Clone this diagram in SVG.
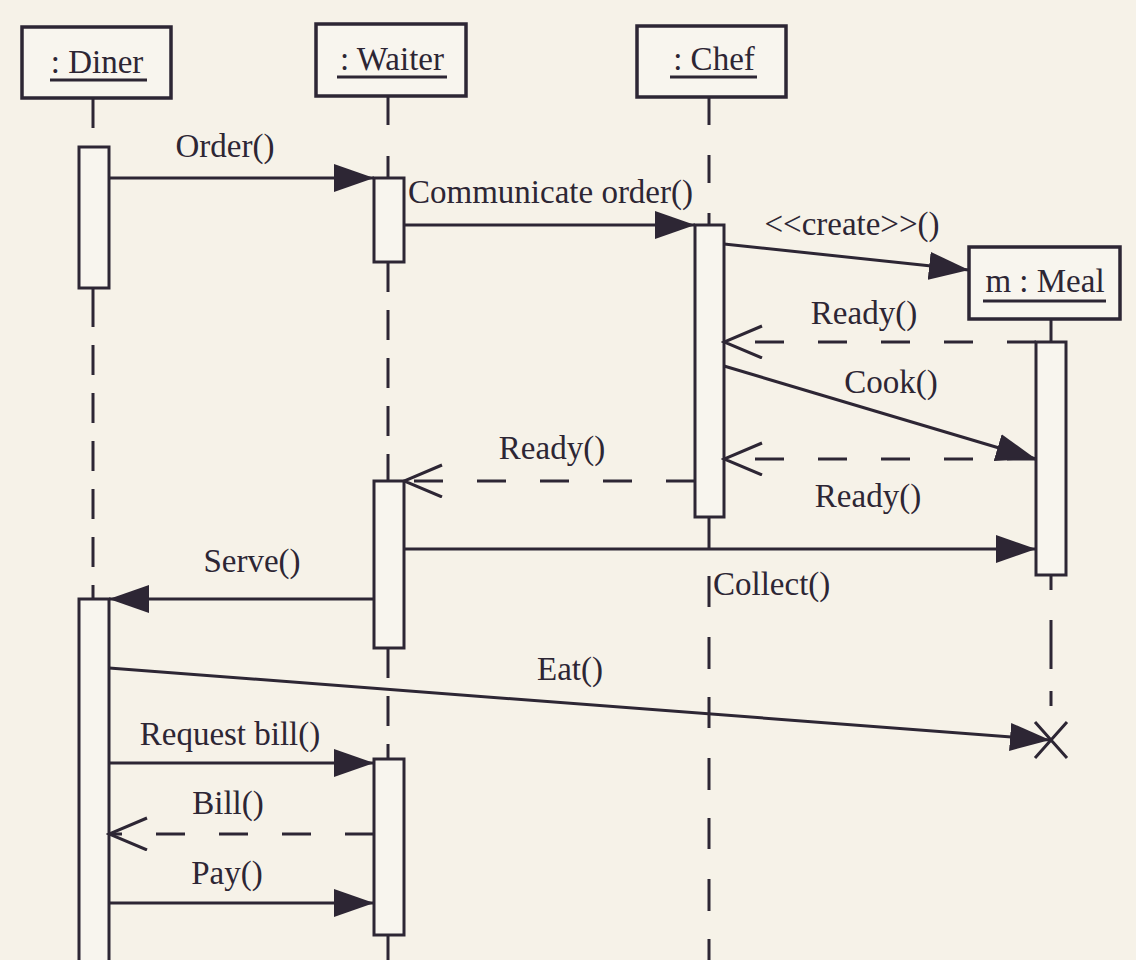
<svg xmlns="http://www.w3.org/2000/svg" width="1136" height="960" viewBox="0 0 1136 960">
<style>
.bg{fill:#f6f2e8}
.box{fill:#f8f5ee;stroke:#2d2634;stroke-width:3.5}
.act{fill:#f8f5ee;stroke:#2d2634;stroke-width:3}
.ul{stroke:#2d2634;stroke-width:3}
.life{stroke:#2d2634;stroke-width:3;fill:none}
.msg{stroke:#2d2634;stroke-width:3;fill:none}
.ret{stroke:#2d2634;stroke-width:3;fill:none;stroke-dasharray:29 34}
text{font-family:"Liberation Serif","Times New Roman",serif;font-size:33px;fill:#2d2634}
.c{text-anchor:middle}
</style>
<defs>
<marker id="fa" markerUnits="userSpaceOnUse" markerWidth="42" markerHeight="30" refX="40" refY="14" orient="auto">
<path d="M0,0 L40,14 L0,28 z" fill="#2d2634"/>
</marker>
<marker id="oa" markerUnits="userSpaceOnUse" markerWidth="42" markerHeight="36" refX="39" refY="17" orient="auto">
<path d="M1,1 L39,17 L1,33" fill="none" stroke="#2d2634" stroke-width="3"/>
</marker>
</defs>
<rect class="bg" x="0" y="0" width="1136" height="960"/>

<g id="lifelines">
<line class="life" x1="93" y1="98" x2="93" y2="147" stroke-dasharray="30 20"/>
<line class="life" x1="93" y1="288" x2="93" y2="598" stroke-dasharray="39 18 30 18 30 18 30 18 30 18 30 18 30"/>
<line class="life" x1="388" y1="96" x2="388" y2="178" stroke-dasharray="29 31"/>
<line class="life" x1="388" y1="262" x2="388" y2="481" stroke-dasharray="30 18"/>
<line class="life" x1="388" y1="648" x2="388" y2="759" stroke-dasharray="30 18"/>
<line class="life" x1="388" y1="935" x2="388" y2="960" stroke-dasharray="30 18"/>
<line class="life" x1="709" y1="97" x2="709" y2="225" stroke-dasharray="28 30"/>
<line class="life" x1="709" y1="516" x2="709" y2="960" stroke-dasharray="32 28 31 30"/>
<line class="life" x1="1051" y1="319" x2="1051" y2="342"/>
<line class="life" x1="1051" y1="575" x2="1051" y2="722" stroke-dasharray="15 30 49 22"/>
</g>

<g id="diner">
<rect class="box" x="22" y="27" width="149" height="71"/>
<text class="c" x="97" y="73">: Diner</text>
<line class="ul" x1="50" y1="80" x2="147" y2="80"/>
<rect class="act" x="79" y="147" width="30" height="141"/>
<rect class="act" x="79" y="599" width="30" height="380"/>
</g>

<g id="waiter">
<rect class="box" x="316" y="24" width="150" height="72"/>
<text class="c" x="392" y="70">: Waiter</text>
<line class="ul" x1="337" y1="77" x2="447" y2="77"/>
<rect class="act" x="374" y="178" width="30" height="84"/>
<rect class="act" x="374" y="481" width="30" height="167"/>
<rect class="act" x="374" y="759" width="30" height="176"/>
</g>

<g id="chef">
<rect class="box" x="637" y="26" width="149" height="71"/>
<text class="c" x="714" y="70">: Chef</text>
<line class="ul" x1="670" y1="77" x2="757" y2="77"/>
<rect class="act" x="695" y="225" width="29" height="292"/>
</g>

<g id="meal">
<rect class="box" x="969" y="247" width="151" height="72"/>
<text class="c" x="1045" y="292">m : Meal</text>
<line class="ul" x1="983" y1="301" x2="1106" y2="301"/>
<rect class="act" x="1036" y="342" width="30" height="233"/>
<path d="M1035,722 L1067,758 M1067,722 L1035,758" stroke="#2d2634" stroke-width="3"/>
</g>

<g id="messages">
<line class="msg" x1="109" y1="178" x2="374" y2="178" marker-end="url(#fa)"/>
<text class="c" x="225" y="157">Order()</text>

<line class="msg" x1="404" y1="225" x2="695" y2="225" marker-end="url(#fa)"/>
<text x="408" y="203">Communicate order()</text>

<line class="msg" x1="724" y1="244" x2="969" y2="270" marker-end="url(#fa)"/>
<text class="c" x="852" y="235">&lt;&lt;create&gt;&gt;()</text>

<line class="ret" x1="1036" y1="342" x2="724" y2="342" marker-end="url(#oa)"/>
<text class="c" x="864" y="324">Ready()</text>

<line class="msg" x1="724" y1="366" x2="1036" y2="459" marker-end="url(#fa)"/>
<text class="c" x="891" y="393">Cook()</text>

<line class="ret" x1="1036" y1="459" x2="724" y2="459" marker-end="url(#oa)"/>
<text class="c" x="868" y="507">Ready()</text>

<line class="ret" x1="695" y1="481" x2="404" y2="481" marker-end="url(#oa)"/>
<text class="c" x="552" y="459">Ready()</text>

<line class="msg" x1="404" y1="549" x2="1036" y2="549" marker-end="url(#fa)"/>
<text x="713" y="595">Collect()</text>

<line class="msg" x1="374" y1="599" x2="109" y2="599" marker-end="url(#fa)"/>
<text class="c" x="252" y="572">Serve()</text>

<line class="msg" x1="109" y1="668" x2="1050" y2="740" marker-end="url(#fa)"/>
<text class="c" x="570" y="680">Eat()</text>

<line class="msg" x1="109" y1="763" x2="374" y2="763" marker-end="url(#fa)"/>
<text class="c" x="230" y="745">Request bill()</text>

<line class="ret" x1="374" y1="834" x2="109" y2="834" marker-end="url(#oa)"/>
<text class="c" x="228" y="814">Bill()</text>

<line class="msg" x1="109" y1="903" x2="374" y2="903" marker-end="url(#fa)"/>
<text class="c" x="227" y="884">Pay()</text>
</g>
</svg>
